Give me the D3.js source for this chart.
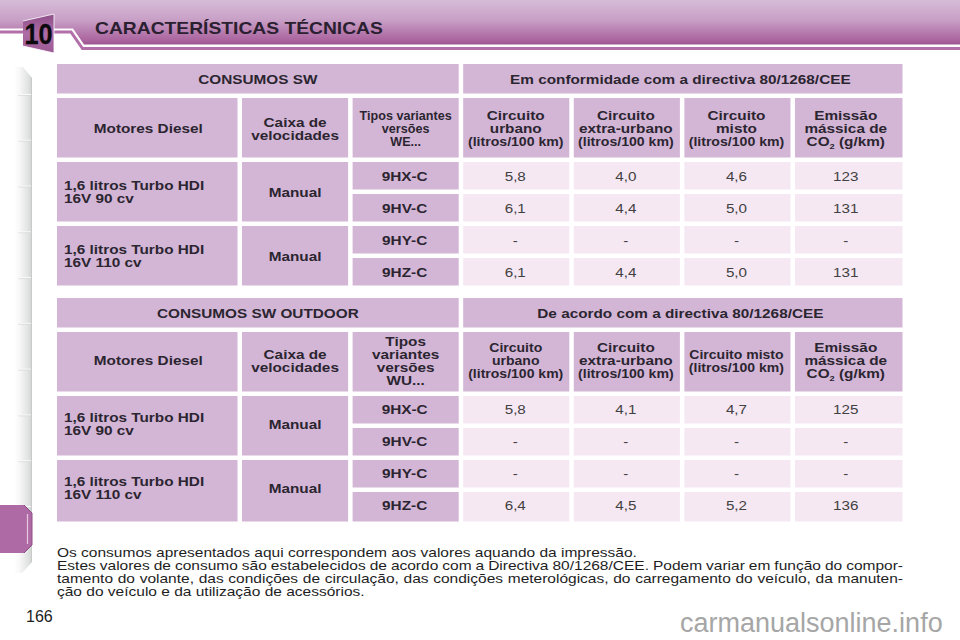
<!DOCTYPE html>
<html><head><meta charset="utf-8">
<script src="https://cdn.jsdelivr.net/npm/d3@7"></script>
<style>html,body{margin:0;padding:0;background:#fff}svg{display:block}text{font-family:"Liberation Sans",Arial,sans-serif}</style>
</head><body><svg id="c" width="960" height="640"></svg>
<script>
const pageTitle = "CARACTERÍSTICAS TÉCNICAS";
const sectionNumber = "10";
const pageNumber = "166";
const watermark = "carmanualsonline.info";
const trims = ["9HX-C","9HV-C","9HY-C","9HZ-C"];
const engines = [["1,6 litros Turbo HDI","16V 90 cv"],["1,6 litros Turbo HDI","16V 110 cv"]];
const gearbox = "Manual";
const titleSW = ["CONSUMOS SW","Em conformidade com a directiva 80/1268/CEE"];
const titleOut = ["CONSUMOS SW OUTDOOR","De acordo com a directiva 80/1268/CEE"];
const headSW = [["Motores Diesel"],["Caixa de","velocidades"],["Tipos variantes","versões","WE..."],["Circuito","urbano","(litros/100 km)"],["Circuito","extra-urbano","(litros/100 km)"],["Circuito","misto","(litros/100 km)"],["Emissão","mássica de","CO|2| (g/km)"]];
const headOut = [["Motores Diesel"],["Caixa de","velocidades"],["Tipos","variantes","versões","WU..."],["Circuito","urbano","(litros/100 km)"],["Circuito","extra-urbano","(litros/100 km)"],["Circuito misto","(litros/100 km)"],["Emissão","mássica de","CO|2| (g/km)"]];
const valuesSW = [["5,8","4,0","4,6","123"],["6,1","4,4","5,0","131"],["-","-","-","-"],["6,1","4,4","5,0","131"]];
const valuesOut = [["5,8","4,1","4,7","125"],["-","-","-","-"],["-","-","-","-"],["6,4","4,5","5,2","136"]];
const paragraph = [
 ["Os consumos apresentados aqui correspondem aos valores aquando da impressão.",false],
 ["Estes valores de consumo são estabelecidos de acordo com a Directiva 80/1268/CEE. Podem variar em função do compor-",true],
 ["tamento do volante, das condições de circulação, das condições meterológicas, do carregamento do veículo, da manuten-",true],
 ["ção do veículo e da utilização de acessórios.",false]];
const tabTicks = [1,2,3,4,5,6,7,8,9,10];

const svg = d3.select("#c");
const defs = svg.append("defs");
const lg=(id,x2,y2,stops)=>{const g=defs.append("linearGradient").attr("id",id).attr("x1",0).attr("y1",0).attr("x2",x2).attr("y2",y2);
  stops.forEach(s=>g.append("stop").attr("offset",s[0]).attr("stop-color",s[1]));};
lg("band",0,1,[[0,"#d6bcd8"],[.45,"#c89fc6"],[.9,"#ab659f"],[1,"#9a5590"]]);
lg("badge",0,1,[[0,"#8d4f88"],[.5,"#ad6ca6"],[1,"#9c5a94"]]);
lg("tabs",1,0,[[0,"#ffffff"],[.3,"#f8f8f8"],[.8,"#e0e1e1"],[.95,"#d3d4d4"],[1,"#bcbdbd"]]);
const PAD=4.5, CH="#d3b5d6", CL="#f6e8f3";
const colUnits=[1.673,1,1,1,1,1,1.013];
const colEdge=Array.from(d3.cumsum([0,...colUnits]));
const x=d3.scaleLinear().domain([0,7.686]).range([57,907]);
const y=d3.scaleLinear().domain([0,20]).range([64,704]);
const sx=1.17;
function label(g,cx,cy,lines,opt){
  opt=opt||{};const fs=opt.fs||13.1, lh=opt.lh||13, w=opt.w||"bold", col=opt.col||"#2b2530", anchor=opt.anchor||"middle", base=opt.sx||sx;
  const y0=cy-(lines.length-1)*lh/2+fs*.36;
  lines.forEach((ln,i)=>{
    const s=(!opt.nocond&&ln[0]==="(")?base*.92:base;
    const t=g.append("text").attr("transform",`translate(${cx},${y0+i*lh}) scale(${s},1)`)
      .attr("text-anchor",anchor).attr("font-size",fs).attr("font-weight",w).attr("fill",col);
    if(ln.includes("|")){const p=ln.split("|");
      t.append("tspan").text(p[0]);
      t.append("tspan").attr("dy",3).attr("font-size",fs*.6).text(p[1]);
      t.append("tspan").attr("dy",-3).text(p[2]);
    } else t.text(ln);
  });
}
function cell(g,c0,c1,r0,r1,fill,lines,opt,extra){
  opt=opt||{};
  const X0=x(c0),X1=x(c1)-PAD,Y0=y(r0),Y1=y(r1)-PAD;
  g.append("rect").attr("x",X0).attr("y",Y0).attr("width",X1-X0).attr("height",Y1-Y0+(extra||0)).attr("fill",fill);
  if(lines) label(g,opt.left?X0+7:(X0+X1)/2+(opt.dx||0),(Y0+Y1)/2+(opt.dy||0),lines,opt);
}
const headDx=[1,0,0,-.5,-1,-1,-3];
function table(r,titles,head,vals,headOpts,off,lastExtra){
  const g=svg.append("g");
  cell(g,colEdge[0],colEdge[3],r,r+1.0625,CH,[titles[0]],{dy:1});
  cell(g,colEdge[3],colEdge[7],r,r+1.0625,CH,[titles[1]],{dy:1,dx:-2.5});
  const h0=r+1.0625,h1=h0+2;
  head.forEach((lines,i)=>cell(g,colEdge[i],colEdge[i+1],h0,h1,CH,lines,Object.assign({dx:headDx[i],dy:off.head},headOpts[i])));
  const d0=h1;
  engines.forEach((e,k)=>{
    const ex=k===1?lastExtra:0;
    cell(g,colEdge[0],colEdge[1],d0+k*2,d0+k*2+2,CH,e,{anchor:"start",left:true,dy:off.engine},ex);
    cell(g,colEdge[1],colEdge[2],d0+k*2,d0+k*2+2,CH,[gearbox],{dy:off.gear},ex);
  });
  trims.forEach((tr,k)=>{
    const ex=k===3?lastExtra:0, ddy=off.data;
    cell(g,colEdge[2],colEdge[3],d0+k,d0+k+1,CH,[tr],{dy:ddy,dx:-1},ex);
    vals[k].forEach((v,j)=>cell(g,colEdge[3+j],colEdge[4+j],d0+k,d0+k+1,CL,[v],{w:"normal",fs:13,col:"#414141",dy:ddy,dx:j===3?-3:-1},ex));
  });
}
const deco=svg.append("g");
deco.append("path").attr("d",d3.line()([[0,0],[960,0],[960,44.5],[84,44.5],[73,28.5],[0,28.5]])).attr("fill","url(#band)");
deco.append("path").attr("d",d3.line()([[0,32],[71,32],[82.5,48.5],[960,48.5]])).attr("fill","none").attr("stroke","#b26fa9").attr("stroke-width",3);
deco.append("path").attr("d",d3.line()([[23,21],[54,14],[54,53],[23,46]])).attr("fill","url(#badge)").attr("stroke","#fff").attr("stroke-width",.8);
deco.append("text").attr("transform","translate(38.5,43.5) scale(.84,1)").attr("text-anchor","middle").attr("font-size",30).attr("font-weight","bold").attr("fill","#0c0a0c").attr("stroke","#0c0a0c").attr("stroke-width",.3).text(sectionNumber);
deco.append("text").attr("transform",`translate(95,34) scale(1.22,1)`).attr("font-size",15.8).attr("font-weight","bold").attr("fill","#2a2030").text(pageTitle);
deco.append("path").attr("d",d3.line()([[14,67],[23,67],[32,78],[32,562],[22,573],[14,573]])).attr("fill","url(#tabs)");
const ty=d3.scaleLinear().domain([1,10]).range([94.5,506.5]);
deco.selectAll("line.t").data(tabTicks).join("line").attr("x1",18).attr("x2",31).attr("y1",ty).attr("y2",ty).attr("stroke","#fafafa").attr("stroke-width",1);
deco.selectAll("line.s").data(tabTicks).join("line").attr("x1",18).attr("x2",31).attr("y1",d=>ty(d)+1).attr("y2",d=>ty(d)+1).attr("stroke","#d4d5d5").attr("stroke-width",.6);
deco.append("path").attr("d",d3.line()([[0,505],[24,505],[32,513],[32,545],[24,553],[0,553]])).attr("fill","#ae6aa5");
deco.append("line").attr("x1",27.5).attr("x2",27.5).attr("y1",514).attr("y2",544).attr("stroke","#e6c8e0").attr("stroke-width",1.2);
deco.append("path").attr("d",d3.line()([[24,505],[32,513],[32,545],[24,553]])).attr("fill","none").attr("stroke","#8f4d87").attr("stroke-width",1);

table(0,titleSW,headSW,valuesSW,[{},{},{fs:12,lh:13,sx:1.05},{},{},{},{}],{head:1,engine:0,gear:1,data:1},0);
table(7.3125,titleOut,headOut,valuesOut,[{},{},{},{fs:12,nocond:true},{},{fs:12,nocond:true},{}],{head:-1,engine:-1.5,gear:-1,data:0},2);

const pg=svg.append("g").attr("transform","translate(57,0)");
const pY=d3.scaleLinear().domain([0,3]).range([557,596]);
const ps=1.175;
paragraph.forEach((p,i)=>{
  const t=pg.append("text").attr("transform",`translate(0,${pY(i)}) scale(${ps},1)`).attr("font-size",13.2).attr("fill","#1e1e1e").text(p[0]);
  if(p[1]){const len=t.node().getComputedTextLength(),n=p[0].split(" ").length-1;
    t.attr("word-spacing",((846/ps)-len)/n);}
});
svg.append("text").attr("x",26).attr("y",622).attr("font-size",16).attr("fill","#1e1e1e").text(pageNumber);
svg.append("text").attr("x",680).attr("y",632).attr("font-size",27).attr("fill","#a6a6a6").text(watermark);
</script></body></html>
